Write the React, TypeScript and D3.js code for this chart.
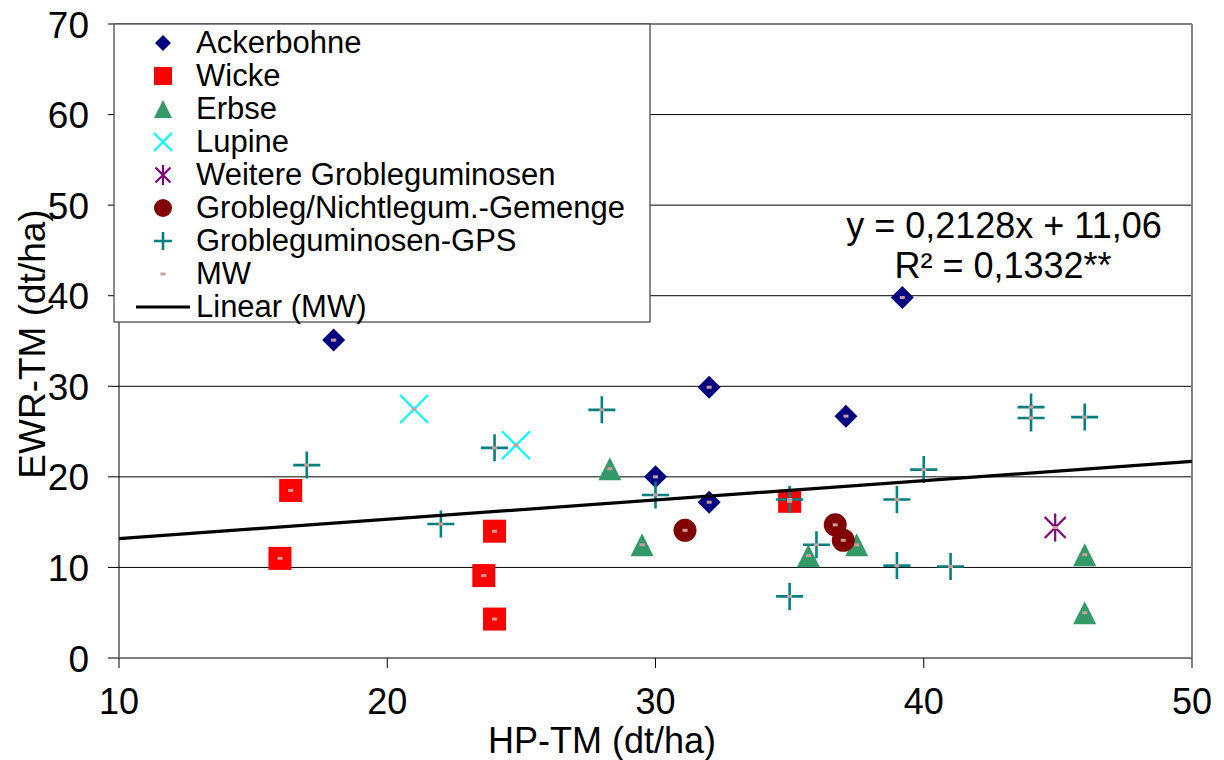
import React from "react";
import * as d3 from "d3";

// Erträge: HP-TM (x) gegen EWR-TM (y), in dt/ha
const ackerbohne: [number, number][] = [[18, 35.1], [32, 29.9], [39.2, 39.8], [37.1, 26.7], [30, 20.0], [32, 17.2]];
const wicke: [number, number][] = [[16.4, 18.5], [16, 11.0], [24, 14.0], [23.6, 9.1], [24, 4.3], [35, 17.3]];
const erbse: [number, number][] = [[28.3, 20.9], [29.5, 12.5], [35.7, 11.3], [37.5, 12.5], [46, 11.4], [46, 5.0]];
const lupine: [number, number][] = [[21, 27.5], [24.8, 23.5]];
const weitere: [number, number][] = [[44.9, 14.4]];
const gemenge: [number, number][] = [[31.1, 14.1], [36.7, 14.7], [37, 13.0]];
const gps: [number, number][] = [
  [17, 21.3], [22, 14.8], [24, 23.2], [28, 27.4], [30, 18.0], [35, 17.5], [36, 12.5], [35, 6.8],
  [39, 17.5], [40, 20.8], [39, 10.2], [41, 10.1], [44, 27.7], [44, 26.5], [46, 26.6],
];

// Trendlinie (MW)
const slope = 0.2128;
const intercept = 11.06;
const equationText = "y = 0,2128x + 11,06";
const r2Text = "R² = 0,1332**";

const xTicks = [10, 20, 30, 40, 50];
const yTicks = [0, 10, 20, 30, 40, 50, 60, 70];

type Shape = "diamond" | "square" | "triangle" | "x" | "asterisk" | "circle" | "plus" | "dot" | "line";

const series: { name: string; data: [number, number][]; shape: Shape; color: string }[] = [
  { name: "Ackerbohne", data: ackerbohne, shape: "diamond", color: "#000080" },
  { name: "Wicke", data: wicke, shape: "square", color: "#FF0000" },
  { name: "Erbse", data: erbse, shape: "triangle", color: "#339966" },
  { name: "Lupine", data: lupine, shape: "x", color: "#00FFFF" },
  { name: "Weitere Grobleguminosen", data: weitere, shape: "asterisk", color: "#800080" },
  { name: "Grobleg/Nichtlegum.-Gemenge", data: gemenge, shape: "circle", color: "#800000" },
  { name: "Grobleguminosen-GPS", data: gps, shape: "plus", color: "#008080" },
];

const mwColor = "#D09A9A";
const FONT = "'Liberation Sans', Arial, sans-serif";

const W = 1224;
const H = 760;
const x = d3.scaleLinear().domain([10, 50]).range([119, 1192]);
const y = d3.scaleLinear().domain([0, 70]).range([658, 24]);

function Marker({ shape, cx, cy, s, color }: { shape: Shape; cx: number; cy: number; s: number; color: string }) {
  const h = s / 2;
  switch (shape) {
    case "diamond":
      return <path d={`M${cx},${cy - h}L${cx + h},${cy}L${cx},${cy + h}L${cx - h},${cy}Z`} fill={color} />;
    case "square":
      return <rect x={cx - h} y={cy - h} width={s} height={s} fill={color} />;
    case "triangle":
      return <path d={`M${cx},${cy - h}L${cx + h},${cy + h}L${cx - h},${cy + h}Z`} fill={color} />;
    case "circle":
      return <circle cx={cx} cy={cy} r={h} fill={color} />;
    case "x":
      return (
        <path d={`M${cx - h},${cy - h}L${cx + h},${cy + h}M${cx - h},${cy + h}L${cx + h},${cy - h}`} stroke={color} strokeWidth={2.2} />
      );
    case "plus":
      return <path d={`M${cx - h},${cy}L${cx + h},${cy}M${cx},${cy - h}L${cx},${cy + h}`} stroke={color} strokeWidth={2.6} />;
    case "asterisk": {
      const d = h * 0.75;
      return (
        <path
          d={`M${cx - d},${cy - d}L${cx + d},${cy + d}M${cx - d},${cy + d}L${cx + d},${cy - d}M${cx},${cy - h}L${cx},${cy + h}`}
          stroke={color}
          strokeWidth={2.2}
        />
      );
    }
    case "dot":
      return <rect x={cx - 2.5} y={cy - 1.5} width={5} height={3} fill={color} />;
    default:
      return null;
  }
}

const plotSizes: Record<string, number> = {
  diamond: 23,
  square: 23,
  triangle: 23,
  circle: 23,
  x: 28,
  plus: 27,
  asterisk: 28,
};

const legendSizes: Record<string, number> = {
  diamond: 16,
  square: 18,
  triangle: 18,
  circle: 18,
  x: 18,
  plus: 18,
  asterisk: 20,
};

export default function App() {
  const allPoints = series.flatMap((s) => s.data);
  const trend = d3
    .line<number>()
    .x((v) => x(v))
    .y((v) => y(slope * v + intercept));

  const legendItems = [
    ...series.map((s) => ({ name: s.name, shape: s.shape, color: s.color })),
    { name: "MW", shape: "dot" as Shape, color: mwColor },
    { name: "Linear (MW)", shape: "line" as Shape, color: "#000" },
  ];

  const legendX = 114;
  const legendY = 24;
  const legendW = 536;
  const legendH = 298;
  const rowStep = 33;
  const firstBaseline = 53;

  return (
    <svg
      width={W}
      height={H}
      style={{ position: "absolute", left: 0, top: 0, background: "#fff" }}
      fontFamily={FONT}
    >
      <rect x={0} y={0} width={W} height={H} fill="#fff" />

      {/* Gitterlinien */}
      {yTicks.slice(1, -1).map((t) => (
        <line key={t} x1={x(10)} x2={x(50)} y1={y(t)} y2={y(t)} stroke="#000" strokeWidth={1} />
      ))}

      {/* Rahmen oben/rechts */}
      <line x1={x(10)} x2={x(50)} y1={y(70)} y2={y(70)} stroke="#808080" strokeWidth={2} />
      <line x1={x(50)} x2={x(50)} y1={y(70)} y2={y(0)} stroke="#808080" strokeWidth={2} />

      {/* Achsen */}
      <line x1={x(10)} x2={x(10)} y1={y(70)} y2={y(0)} stroke="#000" strokeWidth={1} />
      <line x1={x(10)} x2={x(50)} y1={y(0)} y2={y(0)} stroke="#808080" strokeWidth={2} />
      {yTicks.map((t) => (
        <g key={t}>
          <line x1={108} x2={x(10)} y1={y(t)} y2={y(t)} stroke="#000" strokeWidth={1} />
          <text x={89} y={y(t) + 13.5} textAnchor="end" fontSize={37} fill="#000">
            {t}
          </text>
        </g>
      ))}
      {xTicks.map((t) => (
        <g key={t}>
          <line x1={x(t)} x2={x(t)} y1={y(0)} y2={y(0) + 10} stroke="#000" strokeWidth={1} />
          <text x={x(t)} y={714} textAnchor="middle" fontSize={36} fill="#000">
            {t}
          </text>
        </g>
      ))}

      <text x={602} y={753} textAnchor="middle" fontSize={36} fill="#000">
        HP-TM (dt/ha)
      </text>
      <text transform={`translate(45,344) rotate(-90)`} textAnchor="middle" fontSize={37} fill="#000">
        EWR-TM (dt/ha)
      </text>

      {/* Punkte */}
      {series.map((s) =>
        s.data.map(([vx, vy], i) => (
          <Marker key={s.name + i} shape={s.shape} cx={x(vx)} cy={y(vy)} s={plotSizes[s.shape]} color={s.color} />
        ))
      )}
      {allPoints.map(([vx, vy], i) => (
        <Marker key={"mw" + i} shape="dot" cx={x(vx)} cy={y(vy)} s={5} color={mwColor} />
      ))}

      {/* Trendlinie */}
      <path d={trend([10, 50]) || ""} stroke="#000" strokeWidth={3.2} fill="none" />

      {/* Gleichung */}
      <text x={1004} y={238} textAnchor="middle" fontSize={36} fill="#000">
        {equationText}
      </text>
      <text x={1003} y={278} textAnchor="middle" fontSize={36} fill="#000">
        {r2Text}
      </text>

      {/* Legende */}
      <rect x={legendX} y={legendY} width={legendW} height={legendH} fill="#fff" stroke="#404040" strokeWidth={1.2} />
      {legendItems.map((it, i) => {
        const base = firstBaseline + i * rowStep;
        const cy = base - 10;
        return (
          <g key={it.name}>
            {it.shape === "line" ? (
              <line x1={136} x2={190} y1={cy} y2={cy} stroke="#000" strokeWidth={3.2} />
            ) : (
              <Marker shape={it.shape} cx={163} cy={cy} s={legendSizes[it.shape] ?? 5} color={it.color} />
            )}
            <text x={196} y={base} fontSize={31} fill="#000">
              {it.name}
            </text>
          </g>
        );
      })}
    </svg>
  );
}
